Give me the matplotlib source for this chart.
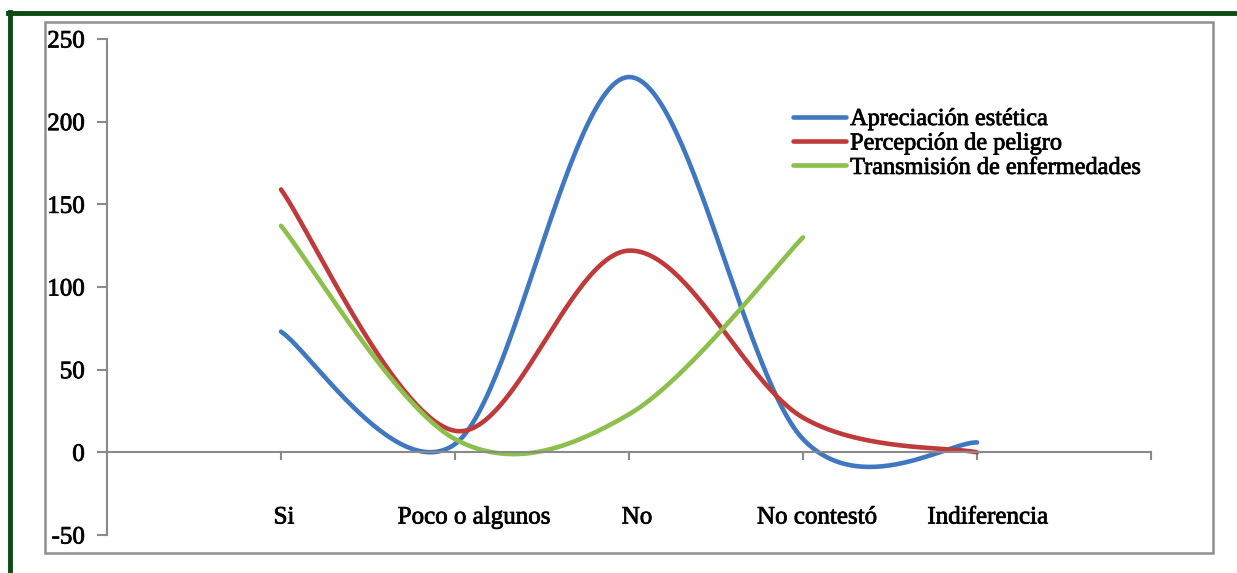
import numpy as np
import matplotlib
matplotlib.use("Agg")
import matplotlib.pyplot as plt
import matplotlib.patheffects as pe
from matplotlib.lines import Line2D
from matplotlib.patches import Rectangle
from matplotlib.transforms import ScaledTranslation

plt.rcParams["font.family"] = ["Liberation Serif", "DejaVu Serif"]
plt.rcParams["axes.unicode_minus"] = False

categories = ["Si", "Poco o algunos", "No", "No contestó", "Indiferencia"]
apreciacion = [73, 5, 227, 8, 6]
percepcion = [159, 13, 122, 21, 0]
transmision = [137, 8, 23, 130]

series_names = ["Apreciación estética", "Percepción de peligro", "Transmisión de enfermedades"]
series_colors = ["#3f77c0", "#bf3b3b", "#8cbf4c"]


def smooth(xs, ys, n=60):
    """Bezier smoothing through every point (Catmull-Rom style control points)."""
    pts = np.column_stack([xs, ys]).astype(float)
    ext = np.vstack([pts[0], pts, pts[-1]])
    out = []
    t = np.linspace(0, 1, n)[:, None]
    for i in range(len(pts) - 1):
        p0, p3 = ext[i + 1], ext[i + 2]
        c1 = p0 + (ext[i + 2] - ext[i]) / 6.0
        c2 = p3 - (ext[i + 3] - ext[i + 1]) / 6.0
        seg = ((1 - t) ** 3) * p0 + 3 * ((1 - t) ** 2) * t * c1 + 3 * (1 - t) * t ** 2 * c2 + t ** 3 * p3
        out.append(seg if i == 0 else seg[1:])
    out = np.vstack(out)
    return out[:, 0], out[:, 1]


W, H = 1237, 573
fig = plt.figure(figsize=(W / 100, H / 100), dpi=100)
ax = fig.add_axes([107 / W, 1 - 535 / H, (1151 - 107) / W, (535 - 39) / H])

for vals, name, col in zip([apreciacion, percepcion, transmision], series_names, series_colors):
    x = np.arange(len(vals))
    sx, sy = smooth(x, vals)
    ax.plot(sx, sy, color=col, lw=3.3, solid_capstyle="round", label=name)

ax.set_xlim(-1, 5)
ax.set_ylim(-50, 250)
ax.set_yticks(range(-50, 251, 50))

# category axis sits on y = 0
ax.spines["top"].set_visible(False)
ax.spines["right"].set_visible(False)
ax.spines["bottom"].set_position(("data", 0))
for s in ("left", "bottom"):
    ax.spines[s].set_color("#8a8a8a")
    ax.spines[s].set_linewidth(1.5)

ax.set_xticks(range(0, 6))
ax.set_xticklabels(categories + [""])
ax.tick_params(axis="x", direction="out", length=6, width=1.5, color="#8a8a8a",
               pad=33, labelsize=18)
ax.tick_params(axis="y", direction="out", length=7, width=1.5, color="#8a8a8a",
               pad=9, labelsize=18)

thick = [pe.withStroke(linewidth=0.6, foreground="#111111")]
label_shift = [3, 19, 8, 14, 11, 0]
for lab, dx in zip(ax.get_xticklabels(), label_shift):
    lab.set_transform(lab.get_transform() + ScaledTranslation(dx / 100, 0, fig.dpi_scale_trans))
    lab.set_path_effects(thick)
for lab in ax.get_yticklabels():
    lab.set_path_effects(thick)

leg = ax.legend(loc="upper left", bbox_to_anchor=((793 - 107) / (1151 - 107), (535 - 108) / (535 - 39)),
                frameon=False, fontsize=17.5, handlelength=2.2, handletextpad=0.15,
                labelspacing=0.1, borderpad=0, borderaxespad=0)
for txt in leg.get_texts():
    txt.set_path_effects(thick)

# outer chart frame and green border
fig.add_artist(Rectangle((45 / W, 1 - 553 / H), (1213 - 45) / W, (553 - 22) / H,
                         transform=fig.transFigure, fill=False, edgecolor="#8f8f8f", lw=1.8))
fig.add_artist(Line2D([8 / W, 1], [1 - 13 / H] * 2, transform=fig.transFigure,
                      color="#0c4a14", lw=3.5))
fig.add_artist(Line2D([9.5 / W] * 2, [0, 1 - 11.5 / H], transform=fig.transFigure,
                      color="#0c4a14", lw=3.5))

fig.savefig("out.png", dpi=100)
